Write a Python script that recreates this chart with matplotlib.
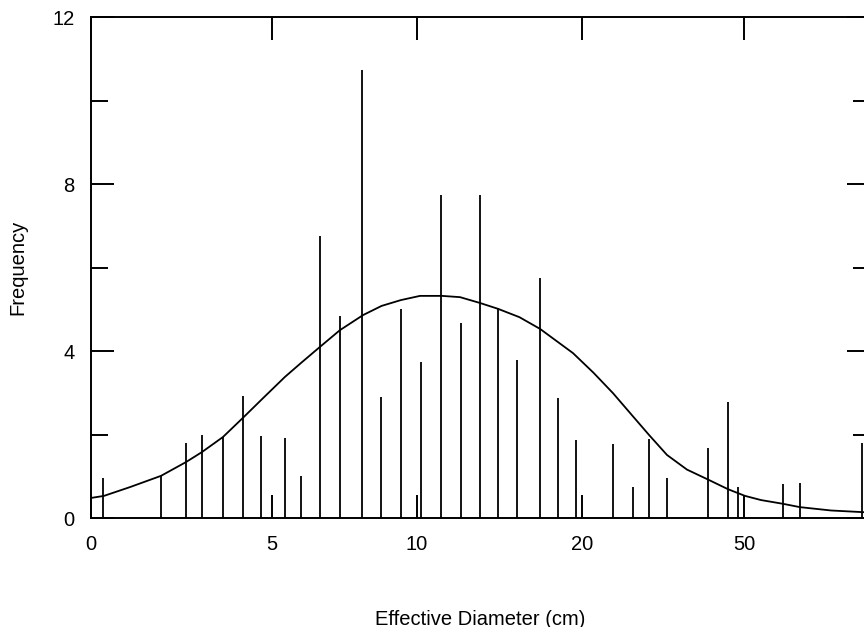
import matplotlib
matplotlib.use("Agg")
import matplotlib.pyplot as plt
import numpy as np

plt.rcParams['font.family'] = ['Liberation Sans', 'DejaVu Sans']

# x is an axis position (0 = left frame, 100 = right frame); the diameter labels sit on ticks
spike_pos = [1.54, 8.99, 12.20, 14.25, 16.94, 19.51, 21.82, 24.90, 26.96, 29.40,
             31.96, 34.79, 37.23, 39.79, 42.36, 44.93, 47.50, 49.94, 52.25, 54.69,
             57.64, 59.95, 62.26, 67.01, 69.58, 71.63, 73.94, 79.20, 81.77, 83.06,
             88.83, 91.01, 98.97]
spike_freq = [0.95, 1.0, 1.8, 1.99, 1.94, 2.92, 1.96, 1.92, 1.0, 6.75,
              4.84, 10.73, 2.9, 5.0, 3.74, 7.74, 4.67, 7.74, 5.03, 3.78,
              5.75, 2.87, 1.87, 1.77, 0.74, 1.89, 0.96, 1.68, 2.78, 0.74,
              0.81, 0.84, 1.8]

curve_pos = [0, 1.67, 5.0, 8.99, 12.20, 14.25, 16.94, 19.51, 22.08, 24.90, 27.0, 29.40,
             31.96, 34.92, 37.3, 39.79, 42.23, 45.06, 47.37, 49.94, 52.25, 55.0, 57.64, 61.87,
             64.5, 67.01, 69.5, 71.63, 73.94, 76.5, 79.33, 81.77, 83.95, 86.0, 88.83, 91.01,
             95.0, 99.1, 100]
curve_freq = [0.48, 0.53, 0.74, 1.01, 1.34, 1.58, 1.94, 2.40, 2.87, 3.38, 3.72, 4.10,
              4.50, 4.86, 5.08, 5.22, 5.32, 5.32, 5.29, 5.15, 5.01, 4.81, 4.53, 3.95,
              3.48, 2.99, 2.45, 1.99, 1.51, 1.16, 0.91, 0.69, 0.53, 0.43, 0.34, 0.26,
              0.18, 0.14, 0.13]

xtick_pos = [0, 23.24, 41.85, 63.03, 83.83]
xtick_labels = ['0', '5', '10', '20', '50']

fig = plt.figure(figsize=(8.64, 6.27), dpi=100)
ax = fig.add_axes([91/864, 1 - 518/627, 779/864, 501/627])

ax.vlines(spike_pos, 0, spike_freq, color='black', lw=1.3)
ax.plot(curve_pos, curve_freq, color='black', lw=1.3)

ax.set_xlim(0, 100)
ax.set_ylim(0, 12)

ax.set_xticks(xtick_pos)
ax.set_xticklabels(xtick_labels)
ax.set_yticks([0, 4, 8, 12])
ax.set_yticks([2, 6, 10], minor=True)

for sp in ax.spines.values():
    sp.set_linewidth(1.4)

ax.tick_params(axis='both', which='major', direction='in', length=16.5, width=1.4,
               labelsize=14.5, pad=12, top=True, right=True)
ax.tick_params(axis='y', which='minor', direction='in', length=12, width=1.4,
               right=True, left=True)
ax.tick_params(axis='x', which='minor', bottom=False, top=False)

ax.set_xlabel('Effective Diameter (cm)', fontsize=14.5)
ax.set_ylabel('Frequency', fontsize=14.5)
ax.xaxis.set_label_coords(0.5, -0.183)
ax.yaxis.set_label_coords(-0.082, 0.5)

fig.savefig('out.png', dpi=100)
